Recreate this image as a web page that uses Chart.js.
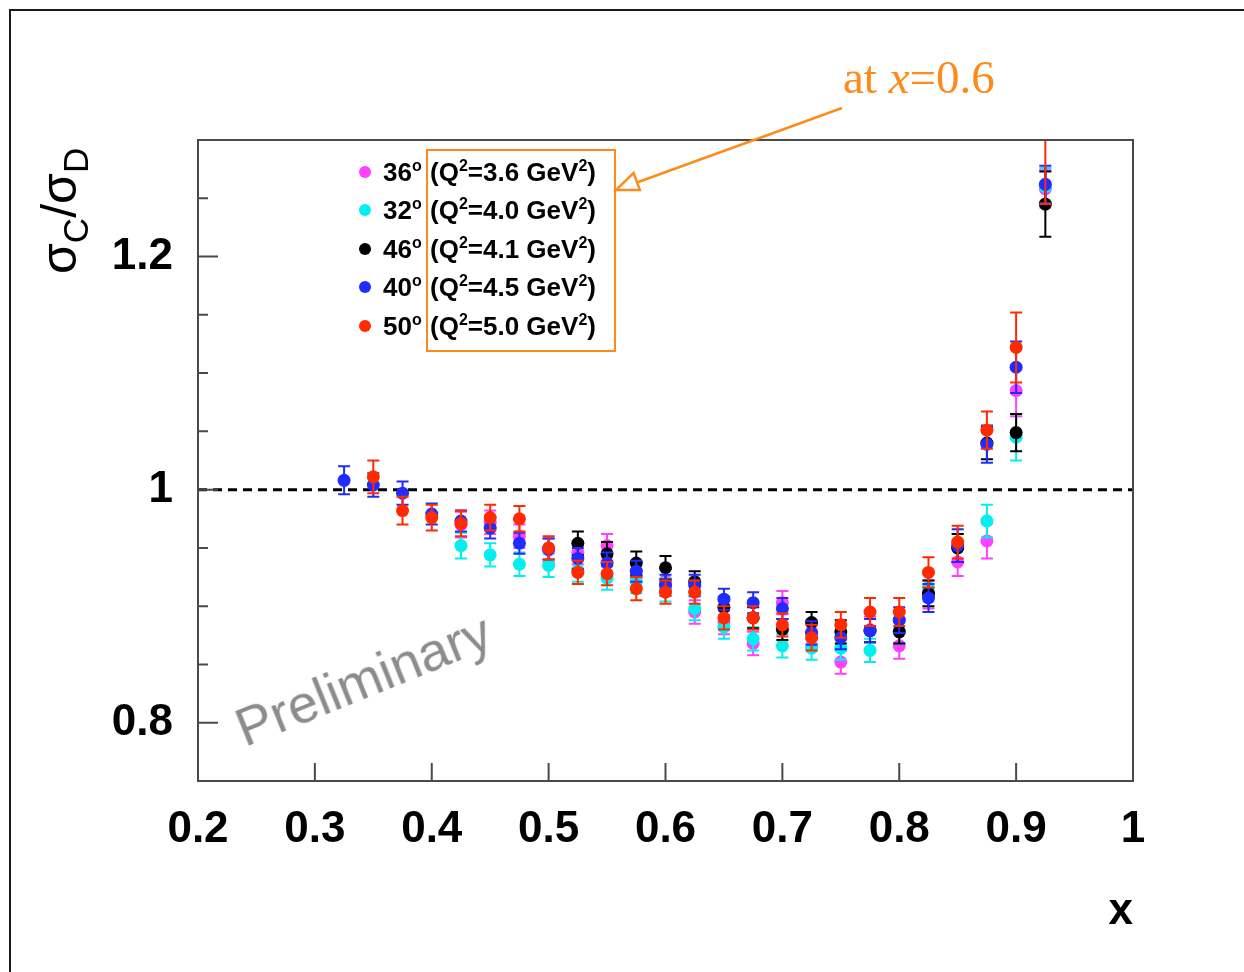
<!DOCTYPE html>
<html lang="en">
<head>
<meta charset="UTF-8">
<title>sigma_C / sigma_D</title>
<script src="https://cdn.jsdelivr.net/npm/chart.js@4.4.7/dist/chart.umd.min.js"></script>
<style>
  body { margin: 0; background: #fff; width: 1244px; height: 972px; overflow: hidden; position: relative;
         font-family: "Liberation Sans", Arial, sans-serif; }
  #frame { position: absolute; left: 9px; top: 9px; width: 1400px; height: 1100px;
           border-left: 2px solid #1a1a1a; border-top: 2px solid #1a1a1a; }
  #chart { position: absolute; left: 0; top: 0; }
  .legrow { position: absolute; font-weight: bold; font-size: 26px; line-height: 30px; color: #000; white-space: nowrap; }
  .legdot { position: absolute; width: 12px; height: 12px; border-radius: 50%; }
  .legrow sup { font-size: 16px; vertical-align: 10px; line-height: 0; }
  #legbox { position: absolute; left: 426px; top: 149px; width: 186px; height: 199px; border: 2px solid #ff8a1a; }
  #ytitle { position: absolute; left: 34px; top: 274px; font-size: 50px; line-height: 50px; white-space: nowrap;
            transform: rotate(-90deg); transform-origin: left top; color: #000; }
  #ytitle span { font-size: 35px; position: relative; top: 12px; }
  #prelim { position: absolute; left: 228px; top: 648px; font-size: 54px; color: #8c8c8c; white-space: nowrap;
            transform: rotate(-22deg); transform-origin: center; }
  #note { position: absolute; left: 843px; top: 54px; font-family: "Liberation Serif", "Times New Roman", serif;
          font-size: 47px; line-height: 47px; color: #ff8a1a; white-space: nowrap; }
  svg { position: absolute; left: 0; top: 0; }
</style>
</head>
<body>
<div id="frame"></div>
<canvas id="chart" width="1244" height="972"></canvas>
<div id="ytitle">σ<span>C</span>/σ<span>D</span></div>
<div id="prelim">Preliminary</div>
<div id="legend"></div>
<div id="legbox"></div>
<div id="note">at <i>x</i>=0.6</div>
<svg width="1244" height="972">
  <line x1="842" y1="108" x2="630" y2="185" stroke="#ff8a1a" stroke-width="2.5"/>
  <polygon points="616,190 639.8,189.9 633.6,172.9" fill="#fff" stroke="#ff8a1a" stroke-width="2.5" stroke-linejoin="miter"/>
</svg>
<script>
// x bins (Bjorken x)
const xValues = [0.325, 0.35, 0.375, 0.4, 0.425, 0.45, 0.475, 0.5, 0.525, 0.55, 0.575, 0.6, 0.625,
                 0.65, 0.675, 0.7, 0.725, 0.75, 0.775, 0.8, 0.825, 0.85, 0.875, 0.9, 0.925];

// ratio sigma_C / sigma_D for each setting (null = no point)
const ratio36 = [null, null, null, null, 0.970, 0.972, 0.960, 0.948, 0.946, 0.952, 0.925, 0.922, 0.895,
                 0.886, 0.868, 0.903, 0.878, 0.852, 0.880, 0.866, 0.910, 0.938, 0.956, 1.085, 1.258];
const ratio32 = [null, null, null, null, 0.952, 0.944, 0.936, 0.935, 0.931, 0.924, 0.921, 0.914, 0.898,
                 0.882, 0.872, 0.866, 0.864, 0.864, 0.862, 0.879, 0.916, 0.950, 0.973, 1.045, 1.260];
const ratio46 = [null, null, null, null, null, null, null, null, 0.954, 0.945, 0.937, 0.933, 0.921,
                 0.899, 0.890, 0.880, 0.886, 0.878, 0.879, 0.878, 0.911, 0.950, 1.040, 1.049, 1.245];
const ratio40 = [1.008, 1.004, 0.997, 0.979, 0.973, 0.967, 0.954, 0.949, 0.941, 0.937, 0.930, 0.918, 0.918,
                 0.906, 0.903, 0.898, 0.877, 0.873, 0.879, 0.888, 0.907, 0.952, 1.039, 1.105, 1.262];
const ratio50 = [null, 1.011, 0.982, 0.976, 0.971, 0.976, 0.975, 0.950, 0.929, 0.928, 0.915, 0.912, 0.912,
                 0.890, 0.890, 0.884, 0.873, 0.884, 0.895, 0.895, 0.929, 0.955, 1.051, 1.122, 1.310];

// uncertainties
const err36 = [null, null, null, null, 0.011, 0.010, 0.010, 0.010, 0.010, 0.010, 0.010, 0.010, 0.010,
               0.010, 0.010, 0.010, 0.010, 0.010, 0.011, 0.011, 0.012, 0.012, 0.015, 0.022, 0.016];
const err32 = [null, null, null, null, 0.011, 0.010, 0.010, 0.010, 0.010, 0.010, 0.010, 0.010, 0.010,
               0.010, 0.010, 0.010, 0.010, 0.010, 0.010, 0.011, 0.012, 0.012, 0.014, 0.020, 0.016];
const err46 = [null, null, null, null, null, null, null, null, 0.010, 0.010, 0.010, 0.010, 0.009,
               0.009, 0.009, 0.009, 0.009, 0.010, 0.010, 0.010, 0.011, 0.012, 0.014, 0.016, 0.028];
const err40 = [0.012, 0.010, 0.010, 0.009, 0.009, 0.009, 0.009, 0.009, 0.009, 0.009, 0.009, 0.009, 0.009,
               0.009, 0.009, 0.009, 0.010, 0.010, 0.010, 0.011, 0.012, 0.014, 0.016, 0.022, 0.016];
const err50 = [null, 0.014, 0.012, 0.011, 0.011, 0.011, 0.011, 0.010, 0.010, 0.010, 0.010, 0.010, 0.010,
               0.010, 0.010, 0.010, 0.011, 0.011, 0.012, 0.012, 0.013, 0.014, 0.016, 0.030, 0.065];

const angles = ['36°', '32°', '46°', '40°', '50°'];
const q2Values = ['3.6', '4.0', '4.1', '4.5', '5.0'];
const colors = ['#ff40ff', '#00f0f0', '#000000', '#1f2cff', '#ff2a00'];
const drawOrder = [4, 3, 2, 1, 0];   // red on top

const xTicks = [0.2, 0.3, 0.4, 0.5, 0.6, 0.7, 0.8, 0.9, 1];
const yLabels = [0.8, 1, 1.2];

const allRatios = [ratio36, ratio32, ratio46, ratio40, ratio50];
const allErrs = [err36, err32, err46, err40, err50];

// legend (html so superscripts are real text)
const legRowY = [172, 210, 249, 287, 326];
let legHtml = '';
angles.forEach((a, i) => {
  legHtml += `<div class="legdot" style="left:${359}px;top:${legRowY[i] - 6}px;background:${colors[i]}"></div>`;
  legHtml += `<div class="legrow" style="left:383px;top:${legRowY[i] - 15}px">${a.replace('°', '<sup>o</sup>')}</div>`;
  legHtml += `<div class="legrow" style="left:430px;top:${legRowY[i] - 15}px">(Q<sup>2</sup>=${q2Values[i]} GeV<sup>2</sup>)</div>`;
});
document.getElementById('legend').innerHTML = legHtml;

const datasets = allRatios.map((vals, i) => ({
  label: angles[i] + ' (Q²=' + q2Values[i] + ' GeV²)',
  data: xValues.map((x, j) => vals[j] == null ? null : { x: x, y: vals[j], e: allErrs[i][j] }).filter(p => p),
  backgroundColor: colors[i],
  borderWidth: 0,
  pointRadius: 6.5,
  order: drawOrder[i]
}));

const decor = {
  id: 'decor',
  beforeDatasetsDraw(chart) {
    const { ctx, chartArea: a, scales: { y } } = chart;
    const py = y.getPixelForValue(1);
    ctx.save();
    ctx.strokeStyle = '#000';
    ctx.lineWidth = 3;
    ctx.setLineDash([9, 6]);
    ctx.beginPath();
    ctx.moveTo(a.left, py);
    ctx.lineTo(a.right, py);
    ctx.stroke();
    ctx.restore();
  },
  beforeDatasetDraw(chart, args) {
    const ds = chart.data.datasets[args.index];
    const { ctx, chartArea: a, scales: { x, y } } = chart;
    ctx.save();
    ctx.beginPath();
    ctx.rect(a.left, a.top, a.right - a.left, a.bottom - a.top);
    ctx.clip();
    ctx.strokeStyle = ds.backgroundColor;
    ctx.lineWidth = 2;
    ds.data.forEach(p => {
      const px = x.getPixelForValue(p.x);
      const y1 = y.getPixelForValue(p.y + p.e);
      const y2 = y.getPixelForValue(p.y - p.e);
      ctx.beginPath();
      ctx.moveTo(px, y1); ctx.lineTo(px, y2);
      ctx.moveTo(px - 6, y1); ctx.lineTo(px + 6, y1);
      ctx.moveTo(px - 6, y2); ctx.lineTo(px + 6, y2);
      ctx.stroke();
    });
    ctx.restore();
  },
  afterDraw(chart) {
    const { ctx, chartArea: a, scales: { x, y } } = chart;
    ctx.save();
    ctx.strokeStyle = '#4a4a4a';
    ctx.lineWidth = 2;
    ctx.strokeRect(a.left, a.top, a.right - a.left, a.bottom - a.top);
    ctx.beginPath();
    y.ticks.forEach(t => {
      const py = y.getPixelForValue(t.value);
      const len = t.label ? 20 : 10;
      ctx.moveTo(a.left, py); ctx.lineTo(a.left + len, py);
    });
    x.ticks.forEach(t => {
      const px = x.getPixelForValue(t.value);
      ctx.moveTo(px, a.bottom); ctx.lineTo(px, a.bottom - 18);
    });
    ctx.stroke();
    ctx.restore();
  }
};

const tickFont = { family: '"Liberation Sans", Arial, sans-serif', size: 44, weight: 'bold' };

new Chart(document.getElementById('chart').getContext('2d'), {
  type: 'scatter',
  data: { datasets: datasets },
  options: {
    responsive: false,
    animation: false,
    layout: { padding: { left: 0, right: 111, top: 140, bottom: 0 } },
    plugins: { legend: { display: false }, tooltip: { enabled: false } },
    scales: {
      x: {
        type: 'linear', min: 0.2, max: 1,
        afterBuildTicks: s => { s.ticks = xTicks.map(v => ({ value: v })); },
        afterFit: s => { s.height = 191; },
        ticks: { color: '#000', font: tickFont, padding: 14, maxRotation: 0, autoSkip: false,
                 callback: v => String(v) },
        grid: { display: false }, border: { display: false },
        title: { display: true, text: 'x', align: 'end', color: '#000', font: tickFont,
                 padding: { top: 0, bottom: 34 } }
      },
      y: {
        type: 'linear', min: 0.75, max: 1.3,
        afterFit: s => { s.width = 198; },
        ticks: { stepSize: 0.05, color: '#000', font: tickFont, padding: 17,
                 callback: v => {
                   const hit = yLabels.find(l => Math.abs(l - v) < 1e-6);
                   return hit === undefined ? '' : String(hit);
                 } },
        grid: { display: false }, border: { display: false }
      }
    }
  },
  plugins: [decor]
});
</script>
</body>
</html>
